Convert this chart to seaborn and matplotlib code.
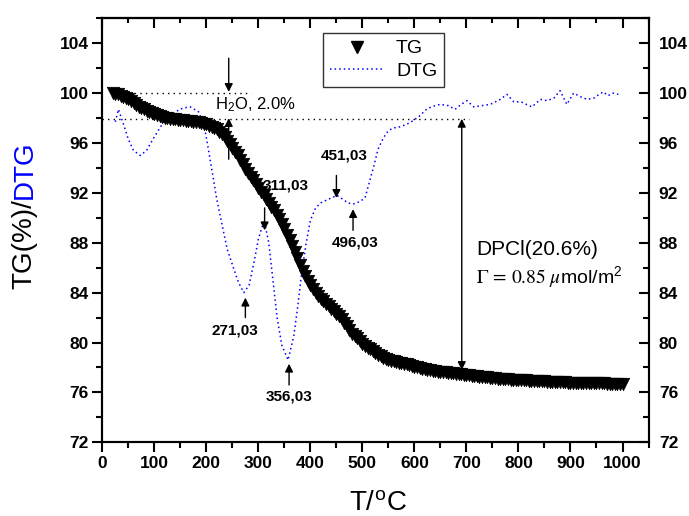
import matplotlib
matplotlib.use("Agg")
import matplotlib.pyplot as plt
import pandas as pd
import seaborn as sns
from matplotlib.lines import Line2D
from matplotlib.ticker import MultipleLocator

# TG curve, read every 5 degC
tg_temp = list(range(20, 1001, 5))
tg_mass = [
    100.0, 99.95, 99.9, 99.8, 99.7, 99.6, 99.5, 99.35, 99.2, 99.05,
    98.9, 98.8, 98.7, 98.6, 98.5, 98.4, 98.3, 98.22, 98.15, 98.07,
    98.0, 97.97, 97.95, 97.92, 97.9, 97.87, 97.85, 97.82, 97.8, 97.77,
    97.75, 97.72, 97.7, 97.65, 97.6, 97.55, 97.5, 97.4, 97.3, 97.2,
    97.1, 96.9, 96.7, 96.45, 96.2, 95.9, 95.6, 95.3, 95.0, 94.65,
    94.3, 93.95, 93.6, 93.3, 93.0, 92.7, 92.4, 92.1, 91.8, 91.5,
    91.2, 90.9, 90.6, 90.25, 89.9, 89.5, 89.1, 88.65, 88.2, 87.75,
    87.3, 86.75, 86.2, 85.75, 85.3, 84.95, 84.6, 84.3, 84.0, 83.75,
    83.5, 83.3, 83.1, 82.9, 82.7, 82.5, 82.3, 82.1, 81.9, 81.6,
    81.3, 81.0, 80.7, 80.55, 80.4, 80.15, 79.9, 79.75, 79.6, 79.45,
    79.3, 79.15, 79.0, 78.9, 78.8, 78.7, 78.6, 78.55, 78.5, 78.45,
    78.4, 78.35, 78.3, 78.25, 78.2, 78.12, 78.05, 78.0, 77.95, 77.9,
    77.85, 77.82, 77.8, 77.75, 77.7, 77.67, 77.65, 77.62, 77.6, 77.57,
    77.55, 77.52, 77.5, 77.47, 77.45, 77.42, 77.4, 77.37, 77.35, 77.32,
    77.3, 77.27, 77.25, 77.22, 77.2, 77.17, 77.15, 77.12, 77.1, 77.09,
    77.08, 77.06, 77.05, 77.03, 77.02, 77.01, 77.0, 76.98, 76.97, 76.96,
    76.95, 76.93, 76.92, 76.91, 76.9, 76.89, 76.88, 76.87, 76.86, 76.85,
    76.84, 76.83, 76.82, 76.81, 76.8, 76.79, 76.78, 76.78, 76.77, 76.77,
    76.76, 76.76, 76.75, 76.75, 76.74, 76.74, 76.73, 76.73, 76.72, 76.72,
    76.71, 76.71, 76.7, 76.7, 76.7, 76.7, 76.7,
]

# DTG curve (scaled onto the same axis)
dtg_temp = [25, 31, 40, 50, 60, 73, 85, 100, 115, 124, 140, 155, 169, 185, 195,
            201, 210, 220, 230, 240, 252, 262, 272, 282, 292, 300, 311, 320, 328,
            336, 345, 357, 368, 376, 383, 392, 400, 410, 420, 435, 451, 462, 472,
            482, 495, 505, 513, 521, 530, 540, 550, 559, 572, 585, 598, 611, 620,
            627, 640, 650, 665, 678, 690, 701, 714, 730, 745, 751, 765, 778, 791,
            805, 815, 826, 842, 855, 868, 880, 893, 906, 920, 932, 945, 955, 963,
            972, 982, 992]
dtg_val = [97.7, 98.7, 97.6, 96.3, 95.4, 95.0, 95.4, 96.5, 97.5, 98.0, 98.5, 98.8,
           98.9, 98.5, 97.5, 96.2, 94.0, 91.5, 89.5, 87.5, 86.0, 84.8, 84.0, 84.6,
           86.5, 88.3, 89.8, 88.0, 85.0, 82.0, 79.8, 78.6, 80.5, 83.0, 85.5, 88.0,
           89.8, 90.8, 91.2, 91.5, 91.8, 91.5, 91.2, 91.1, 91.3, 91.6, 92.8, 94.0,
           95.5, 96.4, 97.0, 97.2, 97.3, 97.5, 97.8, 98.2, 98.6, 98.8, 99.0, 99.1,
           99.0, 98.7, 99.1, 99.4, 98.9, 99.0, 99.1, 99.2, 99.5, 99.9, 99.3, 99.3,
           99.1, 98.9, 99.5, 99.4, 99.6, 100.2, 99.1, 100.0, 99.7, 99.5, 99.6,
           99.9, 100.1, 99.8, 100.0, 99.9]

# peak labels: (text, label x, label y, arrow x, arrow tail y, arrow tip y)
peak_notes = [
    ("271,03", 254, 81.0, 275, 82.0, 83.6),
    ("311,03", 309, 92.6, 312, 90.8, 89.0),
    ("356,03", 359, 75.7, 359, 76.6, 78.3),
    ("451,03", 419, 95.0, 450, 93.4, 91.6),
    ("496,03", 486, 88.0, 482, 89.0, 90.7),
]

sns.set_style("ticks")
plt.rcParams["font.family"] = ["Liberation Sans", "DejaVu Sans"]
plt.rcParams["mathtext.fontset"] = "stix"
for key in ("text.color", "axes.labelcolor", "xtick.color", "ytick.color",
            "axes.edgecolor"):
    plt.rcParams[key] = "black"

fig = plt.figure(figsize=(6.89, 5.16), dpi=100)
ax = fig.add_axes([0.1485, 0.1428, 0.7935, 0.8217])

tg = pd.DataFrame({"T": tg_temp, "TG": tg_mass})
dtg = pd.DataFrame({"T": dtg_temp, "DTG": dtg_val})

sns.lineplot(data=dtg, x="T", y="DTG", color="blue", lw=1.1,
             linestyle=(0, (1, 2)), ax=ax, sort=False)
sns.scatterplot(data=tg, x="T", y="TG", marker="v", s=80, color="black",
                edgecolor="black", linewidth=0.5, ax=ax, zorder=3)

ax.set_xlim(0, 1051)
ax.set_ylim(72, 106)
ax.set_xlabel("")
ax.set_ylabel("")
ax.xaxis.set_major_locator(MultipleLocator(100))
ax.xaxis.set_minor_locator(MultipleLocator(50))
ax.yaxis.set_major_locator(MultipleLocator(4))
ax.yaxis.set_minor_locator(MultipleLocator(2))
ax.tick_params(which="major", direction="out", length=7, width=1.5,
               labelsize=12.5, pad=3)
ax.tick_params(which="minor", direction="out", length=4, width=1.5)
for lab in ax.get_xticklabels() + ax.get_yticklabels():
    lab.set_fontweight("bold")
for sp in ax.spines.values():
    sp.set_linewidth(1.5)
    sp.set_visible(True)

# right axis: inward ticks with labels
ax_r = ax.twinx()
ax_r.set_ylim(ax.get_ylim())
ax_r.yaxis.set_major_locator(MultipleLocator(4))
ax_r.yaxis.set_minor_locator(MultipleLocator(2))
ax_r.tick_params(which="major", direction="in", length=7, width=1.5,
                 labelsize=12.5, pad=7)
ax_r.tick_params(which="minor", direction="in", length=4, width=1.5)
for lab in ax_r.get_yticklabels():
    lab.set_fontweight("bold")
for sp in ax_r.spines.values():
    sp.set_linewidth(1.5)

# top axis: inward ticks, no labels
ax_t = ax.secondary_xaxis("top")
ax_t.xaxis.set_major_locator(MultipleLocator(100))
ax_t.xaxis.set_minor_locator(MultipleLocator(50))
ax_t.tick_params(which="major", direction="in", length=7, width=1.5, labeltop=False)
ax_t.tick_params(which="minor", direction="in", length=3.5, width=1.5)
ax_t.spines["top"].set_linewidth(1.5)

# reference dotted lines
ax.plot([19, 285], [100, 100], color="black", lw=1, linestyle=(0, (1, 3)))
ax.plot([0, 705], [97.94, 97.94], color="black", lw=1, linestyle=(0, (1, 3)))

arrow = dict(arrowstyle="-|>", color="black", lw=1, mutation_scale=12,
             shrinkA=0, shrinkB=0)
ax.annotate("", xy=(243, 100.1), xytext=(243, 102.8), arrowprops=arrow)
ax.annotate("", xy=(243, 98.0), xytext=(243, 94.7), arrowprops=arrow)
ax.text(217, 99.1, "H$_\\mathregular{2}$O, 2.0%", fontsize=12, va="center", ha="left")

for txt, lx, ly, axx, y0, y1 in peak_notes:
    ax.annotate("", xy=(axx, y1), xytext=(axx, y0), arrowprops=arrow)
    ha = "center"
    if txt in ("311,03", "451,03"):
        ha = "left"
    ax.text(lx, ly, txt, fontsize=11, fontweight="bold", ha=ha, va="center")

ax.annotate("", xy=(691, 77.8), xytext=(691, 97.94),
            arrowprops=dict(arrowstyle="<|-|>", color="black", lw=1,
                            mutation_scale=12, shrinkA=0, shrinkB=0))
ax.text(719, 87.5, "DPCl(20.6%)", fontsize=15, ha="left", va="center")
ax.text(719, 85.2, r"$\Gamma\,=\,0.85\ \mu$mol/m$^{\mathregular{2}}$",
        fontsize=14, ha="left", va="center")

handles = [
    Line2D([], [], marker="v", color="black", linestyle="none", markersize=9),
    Line2D([], [], color="blue", lw=1.1, linestyle=(0, (1, 2))),
]
leg = ax.legend(handles, ["TG", "DTG"], loc="upper left",
                bbox_to_anchor=(323 / 689, 1 - 33 / 516),
                bbox_transform=fig.transFigure, borderaxespad=0,
                fontsize=14, frameon=True, fancybox=False, edgecolor="black",
                handlelength=2.8, handletextpad=0.6, labelspacing=0.25,
                borderpad=0.35)
leg.get_frame().set_linewidth(1)

# y label in two colours, x label
fig.text(0.036, 0.614, "TG(%)/", rotation=90, fontsize=20, ha="center", va="top")
fig.text(0.036, 0.614, "DTG", rotation=90, fontsize=20, ha="center", va="bottom",
         color="blue")
fig.text(0.549, 1 - 504 / 516, "T/$^\\mathregular{o}$C", fontsize=20,
         ha="center", va="center")

fig.savefig("out.png", dpi=100)
